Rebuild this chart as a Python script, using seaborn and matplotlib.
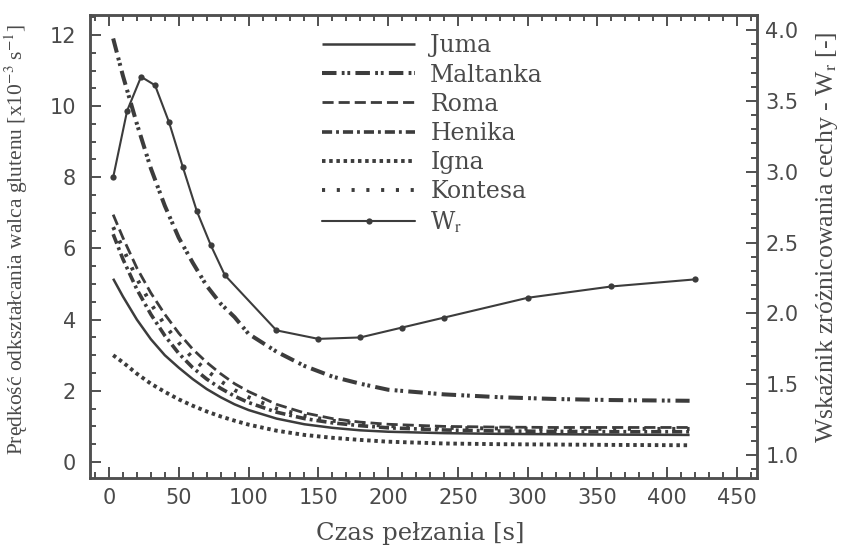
import matplotlib
matplotlib.use("Agg")
import matplotlib.pyplot as plt
import seaborn as sns
import numpy as np
import pandas as pd
from matplotlib.ticker import MultipleLocator

# ---- data ----
time_s = [3, 10, 20, 30, 40, 50, 60, 70, 80, 90, 100, 120, 140, 160, 180, 200, 240, 280, 320, 360, 416]
juma     = [5.15, 4.65, 4.00, 3.45, 3.00, 2.65, 2.33, 2.05, 1.82, 1.62, 1.46, 1.22, 1.06, 0.96, 0.89, 0.85, 0.81, 0.79, 0.78, 0.77, 0.76]
maltanka = [11.9, 10.85, 9.5, 8.25, 7.2, 6.3, 5.6, 4.95, 4.45, 4.07, 3.6, 3.1, 2.7, 2.4, 2.2, 2.03, 1.9, 1.82, 1.77, 1.74, 1.72]
roma     = [6.95, 6.30, 5.45, 4.75, 4.15, 3.62, 3.17, 2.80, 2.48, 2.20, 1.98, 1.62, 1.38, 1.22, 1.12, 1.06, 1.00, 0.98, 0.97, 0.97, 0.97]
henika   = [6.40, 5.70, 4.85, 4.15, 3.55, 3.05, 2.65, 2.33, 2.07, 1.85, 1.67, 1.40, 1.22, 1.10, 1.02, 0.96, 0.90, 0.87, 0.86, 0.85, 0.85]
igna     = [3.00, 2.80, 2.48, 2.20, 1.97, 1.76, 1.58, 1.42, 1.28, 1.16, 1.05, 0.88, 0.76, 0.68, 0.62, 0.57, 0.52, 0.50, 0.49, 0.48, 0.47]
kontesa  = [6.60, 6.00, 5.15, 4.45, 3.85, 3.35, 2.92, 2.57, 2.27, 2.02, 1.82, 1.50, 1.30, 1.16, 1.07, 1.01, 0.96, 0.94, 0.93, 0.93, 0.93]

wr_time = [3, 13, 23, 33, 43, 53, 63, 73, 83, 120, 150, 180, 210, 240, 300, 360, 420]
wr      = [2.96, 3.43, 3.67, 3.61, 3.35, 3.03, 2.72, 2.48, 2.27, 1.88, 1.82, 1.83, 1.90, 1.97, 2.11, 2.19, 2.24]

series_names = ["Juma", "Maltanka", "Roma", "Henika", "Igna", "Kontesa"]
series_vals = [juma, maltanka, roma, henika, igna, kontesa]

# ---- styling ----
sns.set_style("ticks")
plt.rcParams["font.family"] = ["Liberation Serif", "DejaVu Serif"]
plt.rcParams["mathtext.fontset"] = "stix"

LINE = "#3c3c3c"
TEXT = "#4a4a4a"
SPINE = "#505050"

styles = {
    "Juma":     dict(linestyle="-", lw=1.8),
    "Maltanka": dict(linestyle=(0, (3.6, 1.3, 0.7, 0.7, 0.7, 1.3)), lw=2.9),
    "Roma":     dict(linestyle=(0, (4, 1.8)), lw=2.0),
    "Henika":   dict(linestyle=(0, (2.8, 1.1, 0.8, 1.1)), lw=2.6),
    "Igna":     dict(linestyle=(0, (0.9, 0.95)), lw=2.8),
    "Kontesa":  dict(linestyle=(0, (0.8, 3.0)), lw=2.8),
}

fig = plt.figure(figsize=(8.42, 5.46), dpi=100)
ax = fig.add_axes([90 / 842, 1 - 478 / 546, 667 / 842, 463 / 546])

for name, vals in zip(series_names, series_vals):
    df = pd.DataFrame({"t": time_s, "v": vals})
    sns.lineplot(data=df, x="t", y="v", ax=ax, color=LINE, label=name,
                 legend=False, solid_capstyle="butt", **styles[name])

ax2 = ax.twinx()
dfw = pd.DataFrame({"t": wr_time, "w": wr})
sns.lineplot(data=dfw, x="t", y="w", ax=ax2, color=LINE, lw=1.5,
             marker="o", markersize=4.5, markeredgewidth=0, label="W$_{\\rm r}$", legend=False)

ax.set_xlim(-13.6, 464.3)
ax.set_ylim(-0.45, 12.56)
ax2.set_ylim(0.838, 4.106)

ax.xaxis.set_major_locator(MultipleLocator(50))
ax.xaxis.set_minor_locator(MultipleLocator(10))
ax.yaxis.set_major_locator(MultipleLocator(2))
ax.yaxis.set_minor_locator(MultipleLocator(0.5))
ax2.yaxis.set_major_locator(MultipleLocator(0.5))
ax2.yaxis.set_minor_locator(MultipleLocator(0.1))

tick_font = dict(family="DejaVu Sans", size=15)
ax.tick_params(axis="both", which="both", direction="in", colors=SPINE, width=1.4,
               labelcolor=TEXT, top=True, right=False)
ax.tick_params(which="major", length=8)
ax.tick_params(which="minor", length=4)
ax2.tick_params(axis="y", which="both", direction="in", colors=SPINE, width=1.4, labelcolor=TEXT)
ax2.tick_params(which="major", length=8)
ax2.tick_params(which="minor", length=4)

ax.set_xticks([0, 50, 100, 150, 200, 250, 300, 350, 400, 450])
ax.set_xticklabels(["0", "50", "100", "150", "200", "250", "300", "350", "400", "450"], fontdict=tick_font)
ax.set_yticks([0, 2, 4, 6, 8, 10, 12])
ax.set_yticklabels(["0", "2", "4", "6", "8", "10", "12"], fontdict=tick_font)
ax2.set_yticks([1.0, 1.5, 2.0, 2.5, 3.0, 3.5, 4.0])
ax2.set_yticklabels(["1.0", "1.5", "2.0", "2.5", "3.0", "3.5", "4.0"], fontdict=tick_font)
ax.tick_params(axis="x", pad=7)
ax.tick_params(axis="y", pad=10)
ax2.tick_params(axis="y", pad=6)

for a in (ax, ax2):
    for s in a.spines.values():
        s.set_color(SPINE)
        s.set_linewidth(1.8)

ax.set_xlabel("Czas pełzania [s]", fontsize=17.5, color=TEXT, family=["DejaVu Serif"])
ax.xaxis.set_label_coords(0.495, -0.094)
ax.set_ylabel("Prędkość odkształcania walca glutenu [x10$^{-3}$ s$^{-1}$]", fontsize=15.5, color=TEXT)
ax.yaxis.set_label_coords(-0.09, 0.514)
ax2.set_ylabel("Wskaźnik zróżnicowania cechy - W$_{\\rm r}$ [-]", fontsize=18.5, color=TEXT)
ax2.yaxis.set_label_coords(1.085, 0.52)

h1, l1 = ax.get_legend_handles_labels()
h2, l2 = ax2.get_legend_handles_labels()
leg = ax2.legend(h1 + h2, l1 + l2, loc="upper left", bbox_to_anchor=(0.348, 0.958),
                 frameon=False, prop=dict(family="DejaVu Serif", size=17),
                 labelspacing=0.26, handlelength=3.94,
                 handletextpad=0.64, borderpad=0, borderaxespad=0)
for t in leg.get_texts():
    t.set_color(TEXT)

fig.savefig("out.png", dpi=100)
